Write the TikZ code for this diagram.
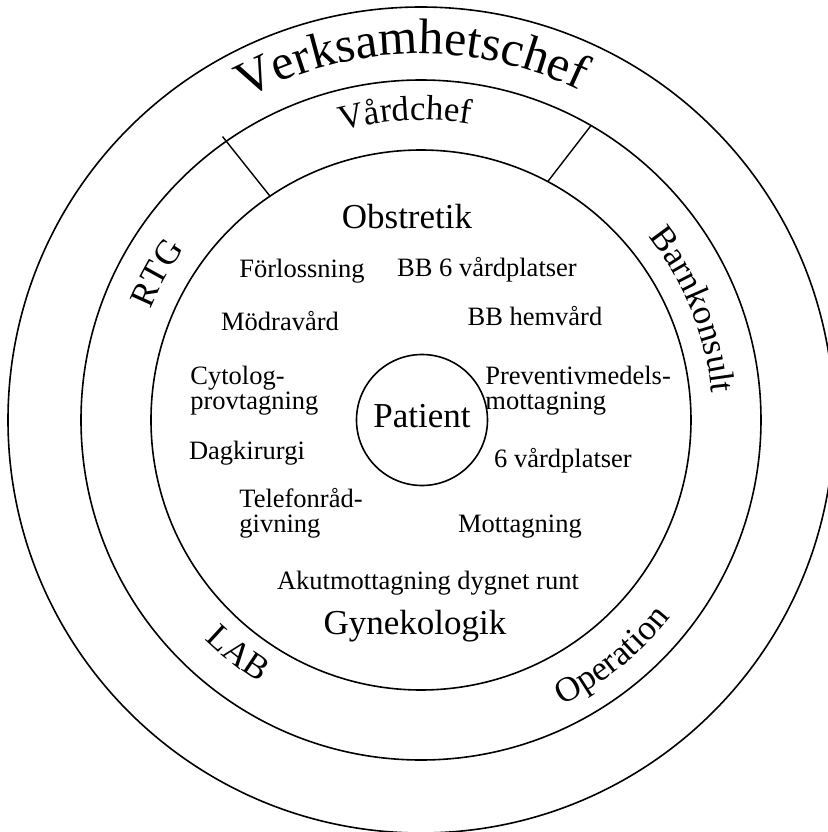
\documentclass[tikz,border=0pt]{standalone}
\usepackage{fontspec}
\setmainfont{Liberation Serif}
\usetikzlibrary{decorations.text}

\newcommand{\unitfont}{\fontsize{13.25}{12.3}\selectfont}
\newcommand{\areafont}{\fontsize{17.5}{20}\selectfont}
\newcommand{\chieffont}{\fontsize{25}{30}\selectfont}

\begin{document}
\begin{tikzpicture}[x=0.5pt,y=0.5pt,
    ring/.style={line width=0.8pt,black},
    unit/.style={font=\unitfont,anchor=base,inner sep=0pt},
    area/.style={font=\areafont,anchor=base,inner sep=0pt},
    multi/.style={font=\unitfont,align=left,anchor=base west,inner sep=0pt},
    arctext/.style={decorate,decoration={text along path,text align=center,text={#1}}}]
    \useasboundingbox (-421,-412) rectangle (407,420);
    % the three rings round the patient
    \coordinate (c) at (0,0);
    \draw[ring] (c) circle[radius=413];
    \draw[ring] (c) circle[radius=340];
    \draw[ring] (c) circle[radius=270];
    \draw[ring] (1,0) circle[radius=65.5];
    % dividers in the middle ring
    \coordinate (rtgtop) at (125:346);
    \coordinate (rtgbot) at (124:270);
    \coordinate (bktop) at (60:340);
    \coordinate (bkbot) at (62:270);
    \draw[line width=0.7pt] (rtgbot) -- (rtgtop);
    \draw[line width=0.7pt] (bkbot) -- (bktop);
    % texts along the rings
    \path[arctext={|\chieffont|Verksamhetschef}] (151.5:366) arc[start angle=151.5,end angle=31.5,radius=366];
    \path[arctext={|\areafont|Vårdchef}] (123:300) arc[start angle=123,end angle=63,radius=300];
    \path[arctext={|\areafont|RTG}] (181:292) arc[start angle=181,end angle=121,radius=292];
    \path[arctext={|\areafont|Barnkonsult}] (52:292) arc[start angle=52,end angle=-8,radius=292];
    \path[arctext={|\areafont|LAB}] (202:308) arc[start angle=202,end angle=262,radius=308];
    \path[arctext={|\areafont|Operation}] (279:318) arc[start angle=279,end angle=339,radius=318];
    % inner circle (multi-line nodes sit on their last line)
    \node[area] (patient) at (1,-7) {Patient};
    \node[area] (obst) at (-14,192) {Obstretik};
    \node[unit] (forl) at (-119,143) {Förlossning};
    \node[unit] (bbsex) at (66,144) {BB 6 vårdplatser};
    \node[unit] (modra) at (-141,90) {Mödravård};
    \node[unit] (bbhem) at (114,95) {BB hemvård};
    \node[multi] (cyto) at (-231,11) {Cytolog-\\provtagning};
    \node[multi] (prev) at (64,11) {Preventivmedels-\\mottagning};
    \node[unit] (dag) at (-174,-39) {Dagkirurgi};
    \node[unit] (sexvard) at (142,-47) {6 vårdplatser};
    \node[multi] (tel) at (-182,-112) {Telefonråd-\\givning};
    \node[unit] (mott) at (99,-112) {Mottagning};
    \node[unit] (akut) at (7,-169) {Akutmottagning dygnet runt};
    \node[area] (gyn) at (-6,-214) {Gynekologik};
\end{tikzpicture}
\end{document}
